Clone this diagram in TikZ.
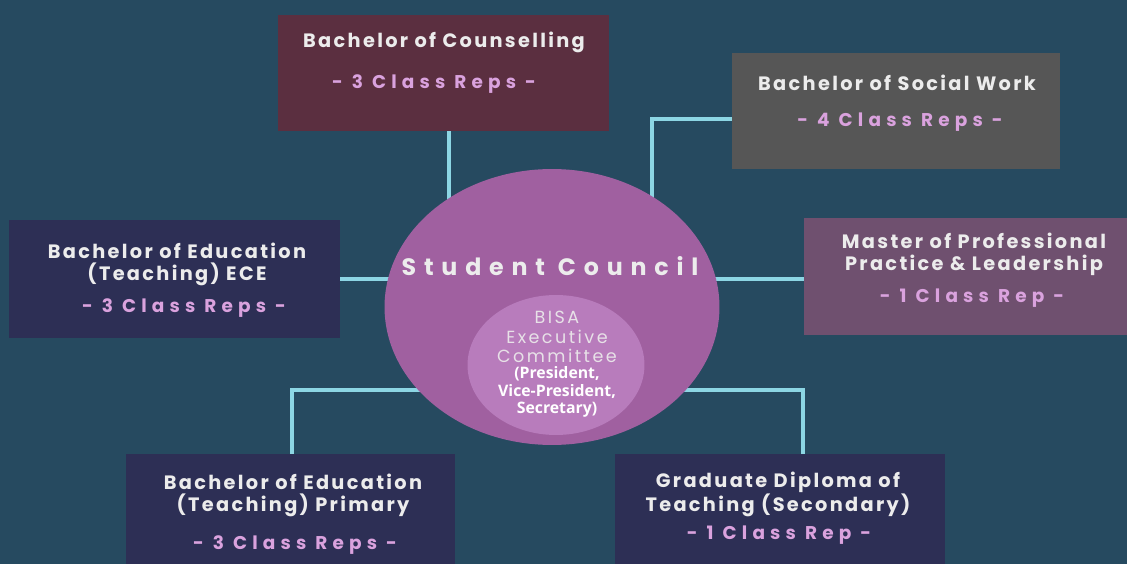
\documentclass[tikz,border=0pt]{standalone}
\usepackage{fontspec}
\setmainfont{Poppins}
\newfontfamily\titlefont[LetterSpace=12]{Poppins}
\newfontfamily\repsfont[LetterSpace=28]{Poppins}
\newfontfamily\councilfont[LetterSpace=33]{Poppins}
\newfontfamily\bisafont[LetterSpace=14]{Poppins}
\newfontfamily\posfont{Open Sans}
\usetikzlibrary{shapes.geometric,calc,backgrounds}
\definecolor{bgteal}{RGB}{38,74,96}
\definecolor{counsred}{RGB}{91,47,64}
\definecolor{socialgrey}{RGB}{86,86,86}
\definecolor{masterplum}{RGB}{111,80,111}
\definecolor{edunavy}{RGB}{45,47,85}
\definecolor{councilpink}{RGB}{160,96,160}
\definecolor{bisapink}{RGB}{184,124,188}
\definecolor{linkcyan}{RGB}{140,214,228}
\definecolor{repspink}{RGB}{218,162,222}
\definecolor{titlewhite}{RGB}{236,236,236}

\begin{document}
\begin{tikzpicture}[
    x=0.02cm, y=-0.02cm,
    course/.style={rectangle, inner sep=0pt, minimum width=6.62cm, minimum height=2.32cm},
    title/.style={font=\titlefont\bfseries\fontsize{11}{12.6}\selectfont, text=titlewhite, align=center},
    reps/.style={font=\repsfont\bfseries\fontsize{10.5}{12}\selectfont, text=repspink},
    link/.style={draw=linkcyan, line width=2.3pt}
]
\useasboundingbox (0,0) rectangle (1127,564);

% course boxes
\node[course, fill=counsred] (couns) at (443.5,73) {};
\node[course, fill=socialgrey, minimum width=6.56cm] (social) at (896,111) {};
\node[course, fill=masterplum, minimum width=6.72cm, minimum height=2.34cm] (master) at (972,276.5) {};
\node[course, fill=edunavy, minimum height=2.36cm] (ece) at (174.5,279) {};
\node[course, fill=edunavy, minimum width=6.58cm, minimum height=2.4cm] (primary) at (290.5,514) {};
\node[course, fill=edunavy, minimum width=6.6cm, minimum height=2.4cm] (grad) at (780,514) {};

% council and executive
\node[ellipse, fill=councilpink, minimum width=6.7cm, minimum height=5.52cm, inner sep=0pt] (council) at (552,307) {};
\node[ellipse, fill=bisapink, minimum width=3.54cm, minimum height=2.8cm, inner sep=0pt] (bisa) at (556,365) {};

% connectors, behind the boxes
\coordinate (socialin) at (652,250);
\coordinate (primin) at (480,390);
\coordinate (gradin) at (620,390);
\begin{scope}[on background layer]
\fill[bgteal] (-5,-5) rectangle (1132,569);
\draw[link] ($(couns.south)+(5.5,0)$) -- ($(couns.south)+(5.5,80)$);
\draw[link] ($(social.west)+(0,8)$) -| (socialin);
\draw[link] (ece.east) -- (ece.east -| council.center);
\draw[link] ($(master.west)+(0,2.5)$) -- ($(master.west -| council.center)+(0,2.5)$);
\draw[link] ($(primary.north)+(1.5,0)$) |- (primin);
\draw[link] ($(grad.north)+(23,0)$) |- (gradin);
\end{scope}

% texts
\node[title] (counstitle) at (444,42) {Bachelor of Counselling};
\node[reps] (counsreps) at (434,84) {- 3 Class Reps -};
\node[title] (socialtitle) at (897,83) {Bachelor of Social Work};
\node[reps] (socialreps) at (900,122) {- 4 Class Reps -};
\node[title] (mastertitle) at (974,254) {Master of Professional\\Practice \& Leadership};
\node[reps] (masterreps) at (972,298) {- 1 Class Rep -};
\node[title] (ecetitle) at (177,264) {Bachelor of Education\\(Teaching) ECE};
\node[reps] (ecereps) at (184,308) {- 3 Class Reps -};
\node[title] (primtitle) at (293,495.5) {Bachelor of Education\\(Teaching) Primary};
\node[reps] (primreps) at (295,545) {- 3 Class Reps -};
\node[title] (gradtitle) at (778,494.5) {Graduate Diploma of\\Teaching (Secondary)};
\node[reps] (gradreps) at (779,535) {- 1 Class Rep -};

\node[font=\councilfont\bfseries\fontsize{13.5}{16}\selectfont, text=titlewhite] (counciltitle) at (550,266) {Student Council};
\node[font=\bisafont\fontsize{10}{11}\selectfont, text=titlewhite!90!bisapink, align=center] (bisatitle) at (557,337) {BISA\\Executive\\Committee};
\node[font=\posfont\bfseries\fontsize{9}{10}\selectfont, text=white, align=center] (bisaroles) at (557,392) {(President,\\Vice-President,\\Secretary)};

\end{tikzpicture}
\end{document}
